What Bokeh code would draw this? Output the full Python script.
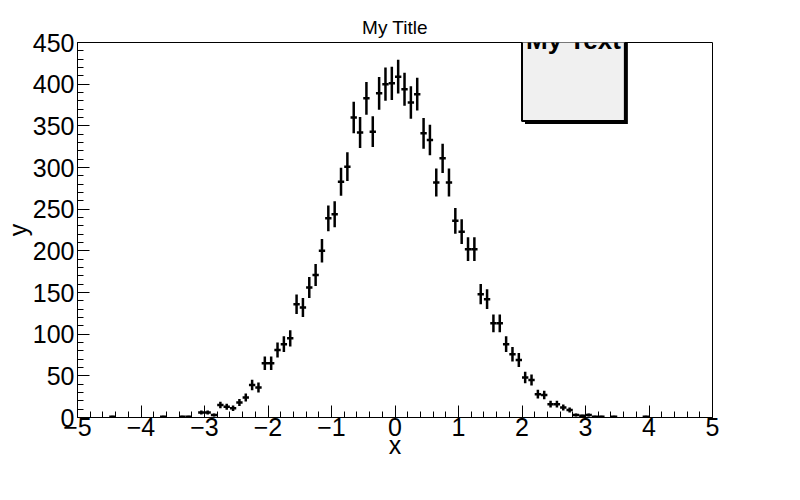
import numpy as np
from bokeh.plotting import figure
from bokeh.models import Range1d, Label, SingleIntervalTicker
from bokeh.embed import file_html
from bokeh.resources import INLINE

# bin centres and counts (empty bins left out)
centers = [-4.45, -3.65, -3.35, -3.25, -3.05, -2.95, -2.85, -2.75, -2.65, -2.55,
           -2.45, -2.35, -2.25, -2.15, -2.05, -1.95, -1.85, -1.75, -1.65, -1.55,
           -1.45, -1.35, -1.25, -1.15, -1.05, -0.95, -0.85, -0.75, -0.65, -0.55,
           -0.45, -0.35, -0.25, -0.15, -0.05, 0.05, 0.15, 0.25, 0.35, 0.45,
           0.55, 0.65, 0.75, 0.85, 0.95, 1.05, 1.15, 1.25, 1.35, 1.45,
           1.55, 1.65, 1.75, 1.85, 1.95, 2.05, 2.15, 2.25, 2.35, 2.45,
           2.55, 2.65, 2.75, 2.85, 2.95, 3.05, 3.15, 3.25, 3.45, 3.95]
counts = [1, 1, 1, 1, 6, 6, 3, 15, 13, 11,
          18, 24, 39, 36, 65, 65, 81, 88, 95, 136,
          132, 156, 171, 200, 239, 244, 283, 301, 360, 342,
          383, 343, 389, 400, 401, 409, 394, 378, 388, 341,
          333, 282, 311, 282, 236, 223, 202, 202, 148, 142,
          113, 113, 88, 76, 69, 48, 45, 28, 27, 16,
          16, 12, 9, 3, 2, 3, 1, 1, 1, 1]
bin_width = 0.1

FONT = "Liberation Sans"

x = np.array(centers)
n = np.array(counts, dtype=float)
err = np.sqrt(n)

p = figure(width=784, height=484, output_backend="svg", toolbar_location=None,
           x_range=Range1d(-5, 5), y_range=Range1d(0, 450),
           min_border_left=72, min_border_right=72, min_border_top=42, min_border_bottom=67)
p.title.text = "My Title"
p.title.align = "center"
p.title.text_font = FONT
p.title.text_font_size = "19px"
p.title.text_font_style = "normal"
p.title.text_color = "black"
p.title.offset = 0
p.outline_line_color = "black"
p.outline_line_width = 1
p.xgrid.visible = False
p.ygrid.visible = False

p.segment(x, n - err, x, n + err, line_color="black", line_width=2.5)
p.segment(x - bin_width / 2, n, x + bin_width / 2, n, line_color="black", line_width=2.5)

p.xaxis.ticker = SingleIntervalTicker(interval=1, num_minor_ticks=5)
p.yaxis.ticker = SingleIntervalTicker(interval=50, num_minor_ticks=5)
for ax in (p.xaxis, p.yaxis):
    ax.major_tick_in = 12
    ax.major_tick_out = 0
    ax.minor_tick_in = 6
    ax.minor_tick_out = 0
    ax.major_label_text_font = FONT
    ax.major_label_text_font_size = "25px"
    ax.major_label_text_color = "black"
    ax.axis_label_text_font = FONT
    ax.axis_label_text_font_size = "25px"
    ax.axis_label_text_font_style = "normal"
    ax.axis_label_text_color = "black"
    ax.axis_line_color = "black"
    ax.major_tick_line_color = "black"
    ax.minor_tick_line_color = "black"
p.xaxis.axis_label = "x"
p.yaxis.axis_label = "y"
p.xaxis.major_label_standoff = 0
p.xaxis.axis_label_standoff = -8
p.yaxis.major_label_standoff = 3
p.yaxis.axis_label_standoff = -2

shadow = Label(x=2.81, y=453, x_offset=3, y_offset=-3, text="My Text", text_align="center",
               text_baseline="middle",
               text_font=FONT, text_font_size="26px", text_font_style="bold",
               text_color="black", background_fill_color="black",
               padding=(4, 66))
box = Label(x=2.81, y=453, text="My Text", text_align="center", text_baseline="middle",
            text_font=FONT, text_font_size="26px", text_font_style="bold",
            text_color="black", background_fill_color="#f0f0f0",
            border_line_color="black", border_line_width=2, padding=(4, 66))
p.add_layout(shadow)
p.add_layout(box)

open("out.html", "w").write(file_html(p, INLINE))
